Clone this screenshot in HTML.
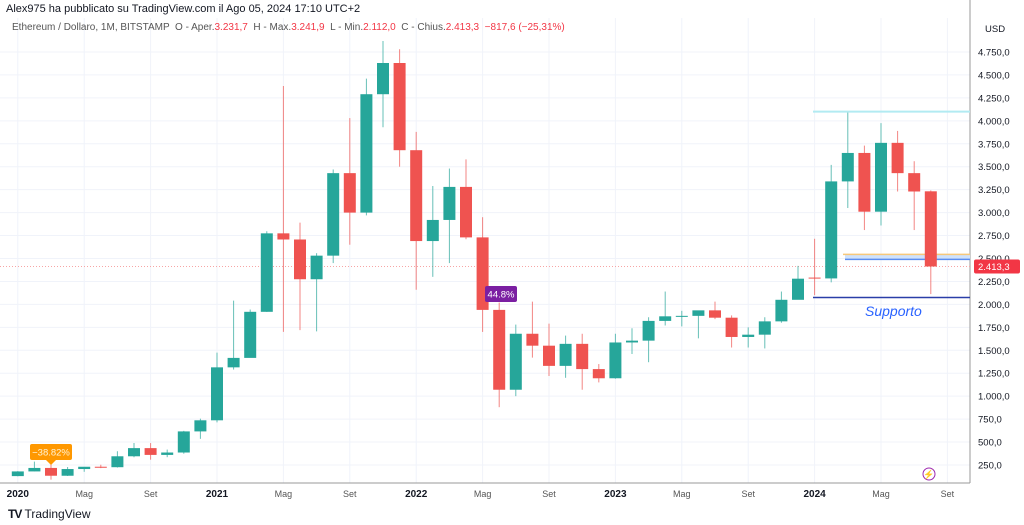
<!DOCTYPE html>
<html><head><meta charset="utf-8"><style>
body{margin:0;width:1024px;height:525px;background:#fff;font-family:"Liberation Sans",sans-serif;overflow:hidden;position:relative}
.t{position:absolute;white-space:nowrap}
</style></head><body>
<svg id="s" width="1024" height="525" style="position:absolute;left:0;top:0" font-family="Liberation Sans, sans-serif"></svg>
<div class="t" style="left:6px;top:3px;font-size:11px;color:#131722">Alex975 ha pubblicato su TradingView.com il Ago 05, 2024 17:10 UTC+2</div>
<div class="t" style="left:12px;top:22px;font-size:10px;color:#555">Ethereum / Dollaro, 1M, BITSTAMP &nbsp;O - Aper.<span style="color:#f23645">3.231,7</span> &nbsp;H - Max.<span style="color:#f23645">3.241,9</span> &nbsp;L - Min.<span style="color:#f23645">2.112,0</span> &nbsp;C - Chius.<span style="color:#f23645">2.413,3 &nbsp;−817,6 (−25,31%)</span></div>
<div class="t" style="left:8px;top:507px;font-size:12px;color:#131722"><b style="letter-spacing:-1px">TV</b> TradingView</div>
<script>
var s=document.getElementById('s'),h='';
function y(p){return 465-(p-250)*0.09178}
function X(i){return 17.8+i*16.6}
for(var p=250;p<=4750;p+=250){var yy=y(p);h+='<line x1="0" x2="970" y1="'+yy+'" y2="'+yy+'" stroke="#f0f3fa"/>';
h+='<text x="978" y="'+(yy+3.5)+'" font-size="9.5" fill="#131722">'+(p>=1000?Math.floor(p/1000)+'.'+String(p%1000).padStart(3,'0'):p)+',0</text>';}
var lab=[[0,'2020',1],[4,'Mag'],[8,'Set'],[12,'2021',1],[16,'Mag'],[20,'Set'],[24,'2022',1],[28,'Mag'],[32,'Set'],[36,'2023',1],[40,'Mag'],[44,'Set'],[48,'2024',1],[52,'Mag'],[56,'Set']];
lab.forEach(function(l){var x=X(l[0]);h+='<line x1="'+x+'" x2="'+x+'" y1="18" y2="483" stroke="#f0f3fa"/>';
h+='<text x="'+x+'" y="497" font-size="'+(l[2]?10:9)+'" text-anchor="middle" fill="'+(l[2]?'#131722':'#555')+'"'+(l[2]?' font-weight="bold"':'')+'>'+l[1]+'</text>';});
h+='<line x1="0" x2="970" y1="483" y2="483" stroke="#999"/><line x1="970" x2="970" y1="0" y2="483" stroke="#999"/>';
var d=[[129,183,127,180],[180,287,180,218],[218,254,90,133],[133,228,130,206],[206,227,176,231],[231,253,216,226],[226,400,222,345],[345,490,335,434],[434,489,308,360],[360,418,335,386],[386,622,373,616],[616,755,535,737],
[737,1475,714,1314],[1314,2041,1290,1417],[1417,1944,1432,1919],[1919,2797,1918,2774],[2774,4380,1700,2707],[2707,2891,1719,2274],[2274,2558,1706,2531],[2531,3470,2450,3430],[3430,4030,2650,3000],[3000,4460,2970,4290],[4290,4870,3930,4630],[4630,4780,3500,3680],
[3680,3880,2160,2690],[2690,3290,2300,2920],[2920,3480,2450,3280],[3280,3580,2710,2730],[2730,2950,1700,1940],[1940,2020,880,1070],[1070,1780,1000,1680],[1680,2030,1420,1550],[1550,1790,1220,1330],[1330,1660,1200,1570],[1570,1680,1070,1295],[1295,1350,1150,1195],
[1195,1680,1190,1585],[1585,1740,1460,1605],[1605,1860,1370,1820],[1820,2140,1770,1870],[1870,1930,1760,1875],[1875,1930,1630,1935],[1935,2030,1840,1855],[1855,1880,1530,1645],[1645,1750,1530,1670],[1670,1860,1520,1815],[1815,2140,1800,2050],[2050,2420,2140,2280],
[2292,2715,2100,2283],[2283,3520,2240,3340],[3340,4090,3050,3650],[3650,3730,2810,3010],[3010,3975,2860,3760],[3760,3890,3230,3430],[3430,3560,2810,3230],[3232,3242,2112,2413]];
h+='<line x1="813" x2="970" y1="'+y(4100)+'" y2="'+y(4100)+'" stroke="#b2ebf2" stroke-width="2"/>';
h+='<rect x="845" y="'+y(2545)+'" width="125" height="'+(y(2490)-y(2545))+'" fill="#cfe2fb"/>';
h+='<line x1="843" x2="970" y1="'+y(2545)+'" y2="'+y(2545)+'" stroke="#f7c87a" stroke-width="1.5"/>';
h+='<line x1="845" x2="970" y1="'+y(2490)+'" y2="'+y(2490)+'" stroke="#5b8ef0" stroke-width="1.5"/>';
h+='<line x1="813" x2="970" y1="'+y(2075)+'" y2="'+y(2075)+'" stroke="#2a3ea8" stroke-width="1.5"/>';
h+='<line x1="0" x2="970" y1="'+y(2413)+'" y2="'+y(2413)+'" stroke="#f7a5a5" stroke-dasharray="1,2"/>';
d.forEach(function(c,i){var x=X(i),up=c[3]>=c[0],col=up?'#26a69a':'#ef5350';
h+='<line x1="'+x+'" x2="'+x+'" y1="'+y(c[1])+'" y2="'+y(c[2])+'" stroke="'+col+'" opacity="0.7"/>';
var t=y(Math.max(c[0],c[3])),b=y(Math.min(c[0],c[3]));h+='<rect x="'+(x-6)+'" y="'+t+'" width="12" height="'+Math.max(1,b-t)+'" fill="'+col+'"/>';});
h+='<rect x="974" y="'+(y(2413)-7)+'" width="46" height="14" rx="2" fill="#f23645"/><text x="978" y="'+(y(2413)+3.5)+'" font-size="9.5" fill="#fff">2.413,3</text>';
h+='<text x="985" y="32" font-size="9.5" fill="#131722">USD</text>';
h+='<rect x="30" y="444" width="42" height="16" rx="2" fill="#ff9800"/><path d="M46 460 L51 465 L56 460Z" fill="#ff9800"/><text x="51" y="455.5" font-size="9.5" fill="#fff3d6" text-anchor="middle">−38.82%</text>';
h+='<rect x="485" y="286" width="32" height="16" rx="2" fill="#7b1fa2"/><text x="501" y="297.5" font-size="9.5" fill="#fff" text-anchor="middle">44.8%</text>';
h+='<text x="865" y="316" font-size="14" font-style="italic" fill="#2962ff">Supporto</text>';
h+='<circle cx="929" cy="474" r="6" fill="none" stroke="#9c27b0"/><text x="929" y="477.5" font-size="9" fill="#9c27b0" text-anchor="middle">⚡</text>';
s.innerHTML=h;
</script>
</body></html>
